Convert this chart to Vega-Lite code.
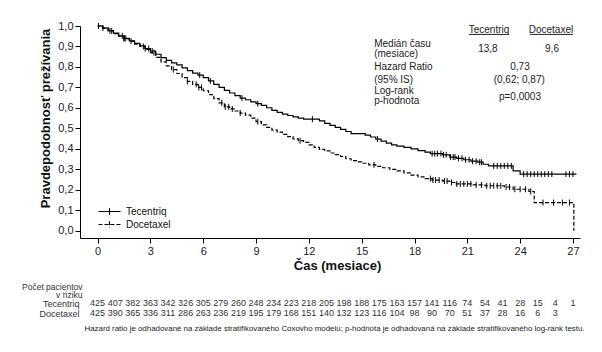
{
  "$schema": "https://vega.github.io/schema/vega-lite/v6.json",
  "padding": {"left": 21, "top": 20, "right": 5, "bottom": 5},
  "bounds": "flush",
  "spacing": 60,
  "config": {
    "font": "Liberation Sans",
    "view": {"stroke": null},
    "axis": {"grid": false, "labelFont": "Liberation Sans", "titleFont": "Liberation Sans", "domainColor": "black", "tickColor": "black", "labelColor": "#222", "titleColor": "#111"},
    "legend": {"labelFont": "Liberation Sans"}
  },
  "datasets": {
    "km": [
      {"arm":"Tecentriq","t":0,"s":1.0},{"arm":"Tecentriq","t":0.3,"s":0.99},{"arm":"Tecentriq","t":0.6,"s":0.977},{"arm":"Tecentriq","t":0.9,"s":0.965},{"arm":"Tecentriq","t":1.2,"s":0.952},{"arm":"Tecentriq","t":1.5,"s":0.94},{"arm":"Tecentriq","t":1.8,"s":0.927},{"arm":"Tecentriq","t":2.1,"s":0.915},{"arm":"Tecentriq","t":2.4,"s":0.903},{"arm":"Tecentriq","t":2.7,"s":0.89},{"arm":"Tecentriq","t":3.0,"s":0.878},{"arm":"Tecentriq","t":3.3,"s":0.862},{"arm":"Tecentriq","t":3.6,"s":0.846},{"arm":"Tecentriq","t":3.9,"s":0.832},{"arm":"Tecentriq","t":4.2,"s":0.82},{"arm":"Tecentriq","t":4.5,"s":0.81},{"arm":"Tecentriq","t":4.8,"s":0.796},{"arm":"Tecentriq","t":5.1,"s":0.782},{"arm":"Tecentriq","t":5.4,"s":0.77},{"arm":"Tecentriq","t":5.7,"s":0.76},{"arm":"Tecentriq","t":6.0,"s":0.748},{"arm":"Tecentriq","t":6.3,"s":0.732},{"arm":"Tecentriq","t":6.6,"s":0.715},{"arm":"Tecentriq","t":6.9,"s":0.7},{"arm":"Tecentriq","t":7.2,"s":0.686},{"arm":"Tecentriq","t":7.5,"s":0.673},{"arm":"Tecentriq","t":7.8,"s":0.66},{"arm":"Tecentriq","t":8.1,"s":0.648},{"arm":"Tecentriq","t":8.4,"s":0.64},{"arm":"Tecentriq","t":8.7,"s":0.63},{"arm":"Tecentriq","t":9.0,"s":0.621},{"arm":"Tecentriq","t":9.3,"s":0.612},{"arm":"Tecentriq","t":9.6,"s":0.601},{"arm":"Tecentriq","t":9.9,"s":0.588},{"arm":"Tecentriq","t":10.2,"s":0.578},{"arm":"Tecentriq","t":10.5,"s":0.57},{"arm":"Tecentriq","t":10.8,"s":0.563},{"arm":"Tecentriq","t":11.1,"s":0.556},{"arm":"Tecentriq","t":11.4,"s":0.55},{"arm":"Tecentriq","t":11.7,"s":0.545},{"arm":"Tecentriq","t":12.6,"s":0.537},{"arm":"Tecentriq","t":12.9,"s":0.525},{"arm":"Tecentriq","t":13.2,"s":0.515},{"arm":"Tecentriq","t":13.5,"s":0.505},{"arm":"Tecentriq","t":13.8,"s":0.495},{"arm":"Tecentriq","t":14.1,"s":0.485},{"arm":"Tecentriq","t":14.4,"s":0.475},{"arm":"Tecentriq","t":15.2,"s":0.467},{"arm":"Tecentriq","t":15.5,"s":0.458},{"arm":"Tecentriq","t":15.8,"s":0.448},{"arm":"Tecentriq","t":16.1,"s":0.438},{"arm":"Tecentriq","t":16.4,"s":0.428},{"arm":"Tecentriq","t":16.7,"s":0.42},{"arm":"Tecentriq","t":17.0,"s":0.414},{"arm":"Tecentriq","t":17.4,"s":0.407},{"arm":"Tecentriq","t":17.8,"s":0.4},{"arm":"Tecentriq","t":18.2,"s":0.392},{"arm":"Tecentriq","t":18.6,"s":0.384},{"arm":"Tecentriq","t":18.9,"s":0.377},{"arm":"Tecentriq","t":19.6,"s":0.371},{"arm":"Tecentriq","t":20.0,"s":0.36},{"arm":"Tecentriq","t":20.4,"s":0.354},{"arm":"Tecentriq","t":20.8,"s":0.347},{"arm":"Tecentriq","t":21.2,"s":0.34},{"arm":"Tecentriq","t":21.6,"s":0.335},{"arm":"Tecentriq","t":21.9,"s":0.325},{"arm":"Tecentriq","t":22.2,"s":0.317},{"arm":"Tecentriq","t":23.6,"s":0.293},{"arm":"Tecentriq","t":24.0,"s":0.277},{"arm":"Tecentriq","t":27.2,"s":0.277},
      {"arm":"Docetaxel","t":0,"s":1.0},{"arm":"Docetaxel","t":0.3,"s":0.99},{"arm":"Docetaxel","t":0.6,"s":0.976},{"arm":"Docetaxel","t":0.9,"s":0.963},{"arm":"Docetaxel","t":1.2,"s":0.95},{"arm":"Docetaxel","t":1.5,"s":0.938},{"arm":"Docetaxel","t":1.8,"s":0.925},{"arm":"Docetaxel","t":2.1,"s":0.912},{"arm":"Docetaxel","t":2.4,"s":0.9},{"arm":"Docetaxel","t":2.7,"s":0.886},{"arm":"Docetaxel","t":3.0,"s":0.87},{"arm":"Docetaxel","t":3.3,"s":0.847},{"arm":"Docetaxel","t":3.6,"s":0.825},{"arm":"Docetaxel","t":3.9,"s":0.805},{"arm":"Docetaxel","t":4.2,"s":0.787},{"arm":"Docetaxel","t":4.5,"s":0.768},{"arm":"Docetaxel","t":4.8,"s":0.748},{"arm":"Docetaxel","t":5.1,"s":0.73},{"arm":"Docetaxel","t":5.4,"s":0.715},{"arm":"Docetaxel","t":5.7,"s":0.7},{"arm":"Docetaxel","t":6.0,"s":0.684},{"arm":"Docetaxel","t":6.3,"s":0.665},{"arm":"Docetaxel","t":6.6,"s":0.645},{"arm":"Docetaxel","t":6.9,"s":0.625},{"arm":"Docetaxel","t":7.2,"s":0.605},{"arm":"Docetaxel","t":7.5,"s":0.595},{"arm":"Docetaxel","t":7.8,"s":0.585},{"arm":"Docetaxel","t":8.1,"s":0.575},{"arm":"Docetaxel","t":8.4,"s":0.565},{"arm":"Docetaxel","t":8.7,"s":0.55},{"arm":"Docetaxel","t":9.0,"s":0.533},{"arm":"Docetaxel","t":9.3,"s":0.517},{"arm":"Docetaxel","t":9.6,"s":0.505},{"arm":"Docetaxel","t":9.9,"s":0.492},{"arm":"Docetaxel","t":10.2,"s":0.482},{"arm":"Docetaxel","t":10.5,"s":0.471},{"arm":"Docetaxel","t":10.8,"s":0.46},{"arm":"Docetaxel","t":11.1,"s":0.449},{"arm":"Docetaxel","t":11.4,"s":0.44},{"arm":"Docetaxel","t":11.7,"s":0.432},{"arm":"Docetaxel","t":12.0,"s":0.42},{"arm":"Docetaxel","t":12.3,"s":0.407},{"arm":"Docetaxel","t":12.6,"s":0.398},{"arm":"Docetaxel","t":12.9,"s":0.39},{"arm":"Docetaxel","t":13.2,"s":0.38},{"arm":"Docetaxel","t":13.5,"s":0.372},{"arm":"Docetaxel","t":13.8,"s":0.363},{"arm":"Docetaxel","t":14.1,"s":0.352},{"arm":"Docetaxel","t":14.4,"s":0.343},{"arm":"Docetaxel","t":14.7,"s":0.337},{"arm":"Docetaxel","t":15.0,"s":0.33},{"arm":"Docetaxel","t":15.4,"s":0.322},{"arm":"Docetaxel","t":15.8,"s":0.315},{"arm":"Docetaxel","t":16.2,"s":0.308},{"arm":"Docetaxel","t":16.6,"s":0.3},{"arm":"Docetaxel","t":17.0,"s":0.293},{"arm":"Docetaxel","t":17.4,"s":0.283},{"arm":"Docetaxel","t":17.8,"s":0.272},{"arm":"Docetaxel","t":18.2,"s":0.263},{"arm":"Docetaxel","t":18.6,"s":0.255},{"arm":"Docetaxel","t":19.0,"s":0.248},{"arm":"Docetaxel","t":19.6,"s":0.243},{"arm":"Docetaxel","t":20.0,"s":0.236},{"arm":"Docetaxel","t":20.3,"s":0.229},{"arm":"Docetaxel","t":21.3,"s":0.224},{"arm":"Docetaxel","t":22.0,"s":0.22},{"arm":"Docetaxel","t":23.1,"s":0.214},{"arm":"Docetaxel","t":23.6,"s":0.203},{"arm":"Docetaxel","t":24.5,"s":0.192},{"arm":"Docetaxel","t":24.8,"s":0.138},{"arm":"Docetaxel","t":27.05,"s":0.0}
    ],
    "censor": [
      {"arm":"Tecentriq","t":0.05,"s":1.0},{"arm":"Tecentriq","t":0.7,"s":0.977},{"arm":"Tecentriq","t":1.4,"s":0.952},{"arm":"Tecentriq","t":1.5,"s":0.94},{"arm":"Tecentriq","t":1.6,"s":0.94},{"arm":"Tecentriq","t":1.9,"s":0.927},{"arm":"Tecentriq","t":2.7,"s":0.89},{"arm":"Tecentriq","t":2.9,"s":0.89},{"arm":"Tecentriq","t":3.1,"s":0.878},{"arm":"Tecentriq","t":5.8,"s":0.76},{"arm":"Tecentriq","t":6.4,"s":0.732},{"arm":"Tecentriq","t":8.2,"s":0.648},{"arm":"Tecentriq","t":9.1,"s":0.621},{"arm":"Tecentriq","t":12.2,"s":0.545},{"arm":"Tecentriq","t":15.9,"s":0.448},{"arm":"Tecentriq","t":19.0,"s":0.377},{"arm":"Tecentriq","t":19.15,"s":0.377},{"arm":"Tecentriq","t":19.3,"s":0.377},{"arm":"Tecentriq","t":19.5,"s":0.377},{"arm":"Tecentriq","t":19.65,"s":0.371},{"arm":"Tecentriq","t":19.8,"s":0.371},{"arm":"Tecentriq","t":20.05,"s":0.36},{"arm":"Tecentriq","t":20.2,"s":0.36},{"arm":"Tecentriq","t":20.3,"s":0.36},{"arm":"Tecentriq","t":20.5,"s":0.354},{"arm":"Tecentriq","t":20.7,"s":0.354},{"arm":"Tecentriq","t":20.9,"s":0.347},{"arm":"Tecentriq","t":21.1,"s":0.347},{"arm":"Tecentriq","t":21.3,"s":0.34},{"arm":"Tecentriq","t":21.5,"s":0.34},{"arm":"Tecentriq","t":21.7,"s":0.335},{"arm":"Tecentriq","t":21.8,"s":0.335},{"arm":"Tecentriq","t":22.5,"s":0.317},{"arm":"Tecentriq","t":22.7,"s":0.317},{"arm":"Tecentriq","t":22.9,"s":0.317},{"arm":"Tecentriq","t":23.1,"s":0.317},{"arm":"Tecentriq","t":23.3,"s":0.317},{"arm":"Tecentriq","t":23.5,"s":0.317},{"arm":"Tecentriq","t":24.2,"s":0.277},{"arm":"Tecentriq","t":24.4,"s":0.277},{"arm":"Tecentriq","t":24.6,"s":0.277},{"arm":"Tecentriq","t":24.8,"s":0.277},{"arm":"Tecentriq","t":25.0,"s":0.277},{"arm":"Tecentriq","t":25.2,"s":0.277},{"arm":"Tecentriq","t":25.4,"s":0.277},{"arm":"Tecentriq","t":25.6,"s":0.277},{"arm":"Tecentriq","t":25.8,"s":0.277},{"arm":"Tecentriq","t":26.6,"s":0.277},{"arm":"Tecentriq","t":26.8,"s":0.277},{"arm":"Tecentriq","t":27.0,"s":0.277},
      {"arm":"Docetaxel","t":0.3,"s":0.99},{"arm":"Docetaxel","t":0.8,"s":0.976},{"arm":"Docetaxel","t":1.5,"s":0.938},{"arm":"Docetaxel","t":2.6,"s":0.9},{"arm":"Docetaxel","t":3.2,"s":0.87},{"arm":"Docetaxel","t":4.3,"s":0.787},{"arm":"Docetaxel","t":5.1,"s":0.73},{"arm":"Docetaxel","t":5.6,"s":0.715},{"arm":"Docetaxel","t":5.75,"s":0.7},{"arm":"Docetaxel","t":5.9,"s":0.7},{"arm":"Docetaxel","t":7.05,"s":0.625},{"arm":"Docetaxel","t":7.25,"s":0.605},{"arm":"Docetaxel","t":7.45,"s":0.605},{"arm":"Docetaxel","t":7.65,"s":0.595},{"arm":"Docetaxel","t":8.1,"s":0.575},{"arm":"Docetaxel","t":9.1,"s":0.533},{"arm":"Docetaxel","t":11.5,"s":0.44},{"arm":"Docetaxel","t":15.7,"s":0.322},{"arm":"Docetaxel","t":18.9,"s":0.255},{"arm":"Docetaxel","t":19.05,"s":0.248},{"arm":"Docetaxel","t":19.2,"s":0.248},{"arm":"Docetaxel","t":19.4,"s":0.248},{"arm":"Docetaxel","t":19.7,"s":0.243},{"arm":"Docetaxel","t":19.85,"s":0.243},{"arm":"Docetaxel","t":20.1,"s":0.236},{"arm":"Docetaxel","t":20.4,"s":0.229},{"arm":"Docetaxel","t":20.6,"s":0.229},{"arm":"Docetaxel","t":20.8,"s":0.229},{"arm":"Docetaxel","t":21.0,"s":0.229},{"arm":"Docetaxel","t":21.2,"s":0.229},{"arm":"Docetaxel","t":21.5,"s":0.224},{"arm":"Docetaxel","t":21.8,"s":0.224},{"arm":"Docetaxel","t":22.1,"s":0.22},{"arm":"Docetaxel","t":22.3,"s":0.22},{"arm":"Docetaxel","t":22.5,"s":0.22},{"arm":"Docetaxel","t":22.7,"s":0.22},{"arm":"Docetaxel","t":22.9,"s":0.22},{"arm":"Docetaxel","t":23.2,"s":0.214},{"arm":"Docetaxel","t":23.4,"s":0.214},{"arm":"Docetaxel","t":23.7,"s":0.203},{"arm":"Docetaxel","t":24.0,"s":0.203},{"arm":"Docetaxel","t":24.3,"s":0.203},{"arm":"Docetaxel","t":24.6,"s":0.192},{"arm":"Docetaxel","t":25.3,"s":0.138},{"arm":"Docetaxel","t":25.9,"s":0.138},{"arm":"Docetaxel","t":26.4,"s":0.138},{"arm":"Docetaxel","t":26.8,"s":0.138}
    ],
    "labels": [
      {"text":"Medián času","t":15.71,"s":0.911},
      {"text":"(mesiace)","t":15.71,"s":0.862},
      {"text":"Hazard Ratio","t":15.71,"s":0.8},
      {"text":"(95% IS)","t":15.71,"s":0.738},
      {"text":"Log-rank","t":15.71,"s":0.683},
      {"text":"p-hodnota","t":15.71,"s":0.634}
    ],
    "values": [
      {"text":"Tecentriq","t":22.23,"s":0.979},
      {"text":"Docetaxel","t":25.75,"s":0.979},
      {"text":"13,8","t":22.17,"s":0.886},
      {"text":"9,6","t":25.81,"s":0.886},
      {"text":"0,73","t":23.99,"s":0.8},
      {"text":"(0,62; 0,87)","t":23.95,"s":0.738},
      {"text":"p=0,0003","t":23.99,"s":0.653}
    ],
    "underlines": [
      {"t":21.09,"t2":23.37,"s":0.959},
      {"t":24.56,"t2":27.0,"s":0.959}
    ],
    "risk": [
      {"arm":"Tecentriq","t":0,"n":425},{"arm":"Tecentriq","t":1,"n":407},{"arm":"Tecentriq","t":2,"n":382},{"arm":"Tecentriq","t":3,"n":363},{"arm":"Tecentriq","t":4,"n":342},{"arm":"Tecentriq","t":5,"n":326},{"arm":"Tecentriq","t":6,"n":305},{"arm":"Tecentriq","t":7,"n":279},{"arm":"Tecentriq","t":8,"n":260},{"arm":"Tecentriq","t":9,"n":248},{"arm":"Tecentriq","t":10,"n":234},{"arm":"Tecentriq","t":11,"n":223},{"arm":"Tecentriq","t":12,"n":218},{"arm":"Tecentriq","t":13,"n":205},{"arm":"Tecentriq","t":14,"n":198},{"arm":"Tecentriq","t":15,"n":188},{"arm":"Tecentriq","t":16,"n":175},{"arm":"Tecentriq","t":17,"n":163},{"arm":"Tecentriq","t":18,"n":157},{"arm":"Tecentriq","t":19,"n":141},{"arm":"Tecentriq","t":20,"n":116},{"arm":"Tecentriq","t":21,"n":74},{"arm":"Tecentriq","t":22,"n":54},{"arm":"Tecentriq","t":23,"n":41},{"arm":"Tecentriq","t":24,"n":28},{"arm":"Tecentriq","t":25,"n":15},{"arm":"Tecentriq","t":26,"n":4},{"arm":"Tecentriq","t":27,"n":1},
      {"arm":"Docetaxel","t":0,"n":425},{"arm":"Docetaxel","t":1,"n":390},{"arm":"Docetaxel","t":2,"n":365},{"arm":"Docetaxel","t":3,"n":336},{"arm":"Docetaxel","t":4,"n":311},{"arm":"Docetaxel","t":5,"n":286},{"arm":"Docetaxel","t":6,"n":263},{"arm":"Docetaxel","t":7,"n":236},{"arm":"Docetaxel","t":8,"n":219},{"arm":"Docetaxel","t":9,"n":195},{"arm":"Docetaxel","t":10,"n":179},{"arm":"Docetaxel","t":11,"n":168},{"arm":"Docetaxel","t":12,"n":151},{"arm":"Docetaxel","t":13,"n":140},{"arm":"Docetaxel","t":14,"n":132},{"arm":"Docetaxel","t":15,"n":123},{"arm":"Docetaxel","t":16,"n":116},{"arm":"Docetaxel","t":17,"n":104},{"arm":"Docetaxel","t":18,"n":98},{"arm":"Docetaxel","t":19,"n":90},{"arm":"Docetaxel","t":20,"n":70},{"arm":"Docetaxel","t":21,"n":51},{"arm":"Docetaxel","t":22,"n":37},{"arm":"Docetaxel","t":23,"n":28},{"arm":"Docetaxel","t":24,"n":16},{"arm":"Docetaxel","t":25,"n":6},{"arm":"Docetaxel","t":26,"n":3}
    ]
  },
  "vconcat": [
    {
      "width": 500,
      "height": 212,
      "encoding": {
        "x": {"field": "t", "type": "quantitative", "scale": {"domain": [-1, 27.4], "nice": false, "zero": false},
              "axis": {"title": "Čas (mesiace)", "values": [0,3,6,9,12,15,18,21,24,27], "labelFontSize": 11, "tickSize": 5, "labelOverlap": false, "titleFontSize": 13, "titleFontWeight": "bold", "titlePadding": 3, "titleX": 257}},
        "y": {"field": "s", "type": "quantitative", "scale": {"domain": [-0.035, 1.0], "nice": false, "zero": false},
              "axis": {"title": "Pravdepodobnosť prežívania", "values": [0,0.1,0.2,0.3,0.4,0.5,0.6,0.7,0.8,0.9,1.0], "tickCount": 11, "labelExpr": "replace(format(datum.value, '.1f'), '.', ',')", "labelOverlap": false, "labelFontSize": 11, "tickSize": 5, "titleFontSize": 13, "titleFontWeight": "bold", "titlePadding": 5, "titleY": 92}}
      },
      "layer": [
        {
          "data": {"name": "km"},
          "mark": {"type": "line", "interpolate": "step-after", "color": "black", "strokeWidth": 1.2},
          "encoding": {
            "strokeDash": {"field": "arm", "type": "nominal",
                           "scale": {"domain": ["Tecentriq", "Docetaxel"], "range": [[1, 0], [4, 2]]},
                           "legend": {"title": null, "orient": "none", "legendX": 23, "legendY": 179, "symbolType": "M-2,0H2M0,-0.6V0.6", "symbolSize": 121, "symbolStrokeWidth": 1.2, "symbolStrokeColor": "black", "labelFontSize": 10, "labelColor": "#111", "rowPadding": -2, "labelOffset": 10}}
          }
        },
        {
          "data": {"name": "censor"},
          "mark": {"type": "point", "shape": "M0,-1L0,1", "size": 36, "color": "black", "filled": false, "strokeWidth": 1, "opacity": 1}
        },
        {
          "data": {"name": "labels"},
          "mark": {"type": "text", "align": "left", "baseline": "middle", "fontSize": 10, "color": "#222"},
          "encoding": {"text": {"field": "text"}}
        },
        {
          "data": {"name": "values"},
          "mark": {"type": "text", "align": "center", "baseline": "middle", "fontSize": 10, "color": "#222"},
          "encoding": {"text": {"field": "text"}}
        },
        {
          "data": {"name": "underlines"},
          "mark": {"type": "rule", "color": "#222", "strokeWidth": 1},
          "encoding": {"x2": {"field": "t2"}}
        }
      ]
    },
    {
      "width": 500,
      "height": 20,
      "data": {"name": "risk"},
      "mark": {"type": "text", "fontSize": 9, "color": "#333", "baseline": "middle"},
      "encoding": {
        "x": {"field": "t", "type": "quantitative", "scale": {"domain": [-1, 27.4], "nice": false, "zero": false},
              "axis": {"labels": false, "ticks": false, "domain": false, "title": "Hazard ratio je odhadované na základe stratifikovaného Coxovho modelu; p-hodnota je odhadovaná na základe stratifikovaného log-rank testu.", "titleFontSize": 7.9, "titleFontWeight": "normal", "titleColor": "#222", "titlePadding": 6, "titleX": 254, "titleLimit": 700}},
        "y": {"field": "arm", "type": "nominal", "sort": ["Tecentriq", "Docetaxel"],
              "axis": {"title": ["Počet pacientov", "v riziku"], "titleAngle": 0, "titleAlign": "right", "titleBaseline": "middle", "titleX": 2, "titleY": -12, "titleFontSize": 8.5, "titleFontWeight": "normal", "titleColor": "#333", "titleLineHeight": 8.5, "labelFontSize": 9, "labelColor": "#333", "ticks": false, "domain": false, "labelPadding": 1}},
        "text": {"field": "n", "type": "quantitative"}
      }
    }
  ]
}
